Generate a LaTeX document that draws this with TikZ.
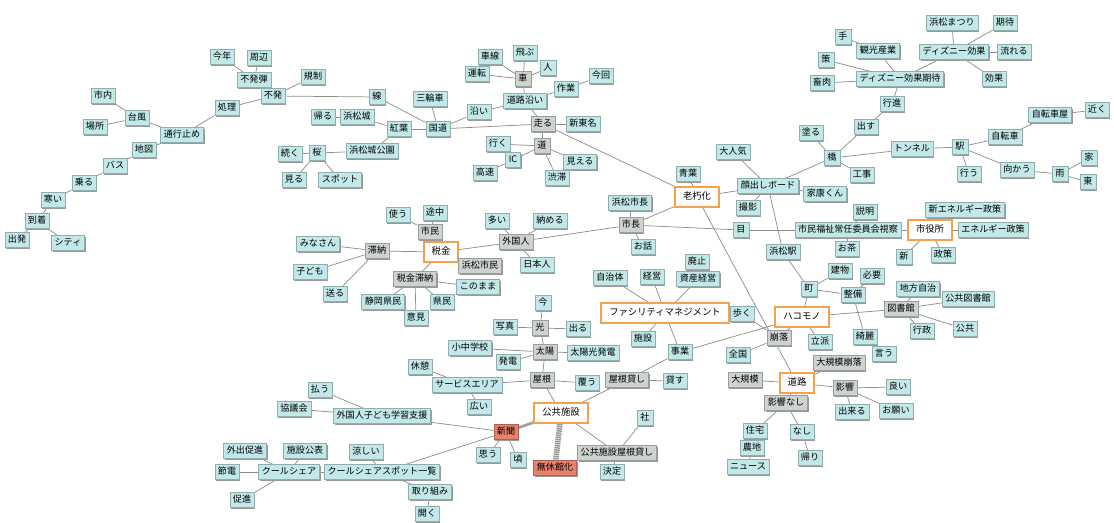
\documentclass[tikz,border=0pt]{standalone}
\usepackage{fontspec}
\setmainfont{Noto Sans CJK JP}
\usetikzlibrary{shadows}
\definecolor{leafc}{HTML}{C2E8EA}
\definecolor{greyc}{HTML}{CDD3CF}
\definecolor{orangec}{HTML}{F5A04A}
\definecolor{redc}{HTML}{E8826C}
\definecolor{edgec}{HTML}{8E8E8E}
\pgfdeclarelayer{bg}
\pgfsetlayers{bg,main}
\tikzset{
  bx/.style={font=\fontsize{6.8pt}{8pt}\selectfont, inner xsep=2.4pt, inner ysep=0pt,
    minimum height=11pt, text height=5.6pt, text depth=1.2pt,
    drop shadow={shadow xshift=0.9pt, shadow yshift=-0.9pt, fill=black!40, opacity=1}},
  lf/.style={bx, fill=leafc, draw=leafc!75!black, line width=0.3pt},
  gr/.style={bx, fill=greyc, draw=greyc!75!black, line width=0.3pt},
  rd/.style={bx, fill=redc, draw=redc!75!black, line width=0.3pt},
  hub/.style={font=\fontsize{7pt}{8pt}\selectfont, inner xsep=6pt, inner ysep=0pt,
    minimum height=15pt, text height=5.6pt, text depth=1.2pt,
    fill=white, draw=orangec, line width=1.3pt},
  ed/.style={draw=edgec, line width=0.55pt},
  thk/.style={draw=gray!80, line width=4.2pt, dash pattern=on 1.1pt off 0.5pt},
  thm/.style={draw=gray!75, line width=2pt},
}
\begin{document}
\begin{tikzpicture}[x=0.75pt,y=-0.75pt]
\useasboundingbox (0,0) rectangle (1114,523);
% left cluster
\node[lf] (kotoshi) at (222,57) {今年};
\node[lf] (shuhen) at (259,58) {周辺};
\node[lf] (fuhatsudan) at (254,80) {不発弾};
\node[lf] (fuhatsu) at (273,96) {不発};
\node[lf] (kisei) at (313,77) {規制};
\node[lf] (shori) at (227,108) {処理};
\node[lf] (shinai) at (103,96) {市内};
\node[lf] (taifu) at (137,118) {台風};
\node[lf] (basho) at (95,127) {場所};
\node[lf] (tsuko) at (182,135) {通行止め};
\node[lf] (chizu) at (144,150) {地図};
\node[lf] (basu) at (115,166) {バス};
\node[lf] (noru) at (84,183) {乗る};
\node[lf] (samui) at (53,200) {寒い};
\node[lf] (tochaku) at (37,221) {到着};
\node[lf] (shuppatsu) at (17,240) {出発};
\node[lf] (city) at (68,243) {シティ};
\node[lf] (sen) at (377,97) {線};
\node[lf] (sanrin) at (430,99) {三輪車};
\node[lf] (kaeru) at (323,117) {帰る};
\node[lf] (hjo) at (357,117) {浜松城};
\node[lf] (koyo) at (399,129) {紅葉};
\node[lf] (kokudo) at (438,129) {国道};
\node[lf] (sakura) at (317,153) {桜};
\node[lf] (hjokoen) at (372,151) {浜松城公園};
\node[lf] (tsuzuku) at (290,154) {続く};
\node[lf] (miru) at (294,180) {見る};
\node[lf] (spot) at (340,180) {スポット};
\node[lf] (zoi) at (479,112) {沿い};
\node[lf] (dorozoi) at (525,101) {道路沿い};
\node[gr] (kuruma) at (523,79) {車};
\node[lf] (shasen) at (490,57) {車線};
\node[lf] (tobu) at (525,53) {飛ぶ};
\node[lf] (unten) at (477,74) {運転};
\node[lf] (hito) at (548,68) {人};
\node[lf] (sagyo) at (566,89) {作業};
\node[lf] (konkai) at (601,76) {今回};
\node[gr] (hashiru) at (543,124) {走る};
\node[lf] (shintomei) at (583,124) {新東名};
\node[gr] (michi) at (542,146) {道};
\node[lf] (iku) at (498,144) {行く};
\node[lf] (ic) at (513,160) {IC};
\node[lf] (kosoku) at (485,173) {高速};
\node[lf] (mieru) at (580,162) {見える};
\node[lf] (jutai) at (557,178) {渋滞};
% top right
\node[lf] (te) at (843,37) {手};
\node[lf] (kanko) at (878,51) {観光産業};
\node[lf] (saku) at (826,60) {策};
\node[lf] (chikuniku) at (822,83) {畜肉};
\node[lf] (disneykitai) at (900,79) {ディズニー効果期待};
\node[lf] (matsuri) at (952,23) {浜松まつり};
\node[lf] (kitai) at (1005,23) {期待};
\node[lf] (disney) at (954,52) {ディズニー効果};
\node[lf] (nagareru) at (1014,52) {流れる};
\node[lf] (koka) at (994,79) {効果};
\node[lf] (koshin) at (892,104) {行進};
\node[lf] (dasu) at (866,127) {出す};
\node[lf] (nuru) at (811,133) {塗る};
\node[lf] (hashi) at (832,158) {橋};
\node[lf] (koji) at (862,175) {工事};
\node[lf] (tunnel) at (912,149) {トンネル};
\node[lf] (eki) at (960,147) {駅};
\node[lf] (jtsya) at (1050,115) {自転車屋};
\node[lf] (chikaku) at (1097,110) {近く};
\node[lf] (jitensha) at (1005,137) {自転車};
\node[lf] (okonau) at (969,174) {行う};
\node[lf] (mukau) at (1017,170) {向かう};
\node[lf] (ame) at (1060,174) {雨};
\node[lf] (ie) at (1089,158) {家};
\node[lf] (higashi) at (1088,182) {東};
% middle
\node[lf] (aoba) at (688,174) {青葉};
\node[hub] (rokyuka) at (697,197) {老朽化};
\node[lf] (kaodashi) at (768,186) {顔出しボード};
\node[lf] (daininki) at (733,152) {大人気};
\node[lf] (ieyasu) at (825,194) {家康くん};
\node[lf] (satsuei) at (748,208) {撮影};
\node[lf] (hshicho) at (630,203) {浜松市長};
\node[gr] (shicho) at (631,225) {市長};
\node[lf] (ohanashi) at (643,247) {お話};
\node[lf] (me) at (741,230) {目};
\node[lf] (shiminfukushi) at (848,230) {市民福祉常任委員会視察};
\node[lf] (setsumei) at (865,212) {説明};
\node[hub] (shiyakusho) at (930,230) {市役所};
\node[lf] (shinene) at (965,210) {新エネルギー政策};
\node[lf] (energy) at (993,230) {エネルギー政策};
\node[lf] (shin) at (904,257) {新};
\node[lf] (seisaku) at (943,255) {政策};
\node[lf] (ocha) at (847,249) {お茶};
\node[lf] (hmeki) at (783,252) {浜松駅};
\node[lf] (tatemono) at (840,271) {建物};
\node[lf] (hitsuyo) at (872,276) {必要};
\node[lf] (machi) at (809,289) {町};
\node[lf] (seibi) at (853,295) {整備};
\node[lf] (chiho) at (918,289) {地方自治};
\node[lf] (kokyotosho) at (968,299) {公共図書館};
\node[gr] (toshokan) at (901,309) {図書館};
\node[hub] (hakomono) at (802,317) {ハコモノ};
\node[lf] (aruku) at (742,314) {歩く};
\node[lf] (gyosei) at (922,331) {行政};
\node[lf] (kokyo) at (965,329) {公共};
\node[gr] (horaku) at (779,338) {崩落};
\node[lf] (rippa) at (820,342) {立派};
\node[lf] (kirei) at (865,337) {綺麗};
\node[lf] (iu) at (884,354) {言う};
\node[lf] (zenkoku) at (738,355) {全国};
\node[gr] (daikibohoraku) at (839,363) {大規模崩落};
\node[gr] (daikibo) at (745,380) {大規模};
\node[hub] (doro) at (797,383) {道路};
\node[gr] (eikyo) at (845,388) {影響};
\node[lf] (yoi) at (898,387) {良い};
\node[gr] (eikyonashi) at (786,403) {影響なし};
\node[lf] (dekiru) at (852,412) {出来る};
\node[lf] (onegai) at (896,411) {お願い};
\node[lf] (jutaku) at (755,431) {住宅};
\node[lf] (nashi) at (802,432) {なし};
\node[lf] (nochi) at (752,448) {農地};
\node[lf] (kaeri) at (810,458) {帰り};
\node[lf] (news) at (748,467) {ニュース};
% facility
\node[lf] (haishi) at (697,262) {廃止};
\node[lf] (jichitai) at (610,278) {自治体};
\node[lf] (keiei) at (652,277) {経営};
\node[lf] (shisan) at (698,279) {資産経営};
\node[hub] (fm) at (665,313) {ファシリティマネジメント};
\node[lf] (shisetsu) at (643,339) {施設};
\node[lf] (jigyo) at (680,352) {事業};
\node[gr] (yanegashi) at (627,380) {屋根貸し};
\node[lf] (kasu) at (675,381) {貸す};
\node[lf] (ima) at (543,303) {今};
\node[gr] (hikari) at (540,328) {光};
\node[lf] (shashin) at (505,327) {写真};
\node[lf] (deru) at (578,329) {出る};
\node[lf] (shochu) at (470,348) {小中学校};
\node[gr] (taiyo) at (545,352) {太陽};
\node[lf] (taiyoko) at (593,353) {太陽光発電};
\node[lf] (hatsuden) at (508,362) {発電};
\node[lf] (kyukei) at (420,367) {休憩};
\node[gr] (yane) at (542,380) {屋根};
\node[lf] (oou) at (587,383) {覆う};
\node[lf] (sa) at (467,385) {サービスエリア};
\node[lf] (hiroi) at (479,407) {広い};
\node[hub] (kokyoshisetsu) at (561,413) {公共施設};
\node[lf] (sha) at (645,418) {社};
\node[lf] (gaikokukodomo) at (382,416) {外国人子ども学習支援};
\node[rd] (shinbun) at (506,432) {新聞};
\node[lf] (omou) at (488,455) {思う};
\node[lf] (koro) at (518,460) {頃};
\node[rd] (mukyukan) at (555,468) {無休館化};
\node[gr] (kkyane) at (617,453) {公共施設屋根貸し};
\node[lf] (kettei) at (612,472) {決定};
\node[lf] (harau) at (320,390) {払う};
\node[lf] (kyogikai) at (294,409) {協議会};
\node[lf] (gaishutsu) at (245,451) {外出促進};
\node[lf] (shisetsukohyo) at (305,451) {施設公表};
\node[lf] (suzushii) at (366,452) {涼しい};
\node[lf] (setsuden) at (227,472) {節電};
\node[lf] (coolshare) at (289,472) {クールシェア};
\node[lf] (coolspot) at (382,472) {クールシェアスポット一覧};
\node[lf] (sokushin) at (242,500) {促進};
\node[lf] (torikumi) at (430,492) {取り組み};
\node[lf] (hiraku) at (427,514) {開く};
% tax
\node[lf] (tsukau) at (398,215) {使う};
\node[lf] (tochu) at (435,213) {途中};
\node[gr] (shimin) at (430,232) {市民};
\node[hub] (zeikin) at (441,252) {税金};
\node[lf] (minasan) at (318,244) {みなさん};
\node[gr] (tainou) at (377,251) {滞納};
\node[lf] (kodomo) at (310,272) {子ども};
\node[lf] (okuru) at (335,294) {送る};
\node[gr] (hshimin) at (480,266) {浜松市民};
\node[gr] (gaikokujin) at (516,242) {外国人};
\node[lf] (oi) at (497,221) {多い};
\node[lf] (osameru) at (550,221) {納める};
\node[lf] (nihonjin) at (537,265) {日本人};
\node[gr] (zeikintainou) at (415,279) {税金滞納};
\node[lf] (konomama) at (478,287) {このまま};
\node[lf] (shizuoka) at (383,302) {静岡県民};
\node[lf] (kenmin) at (442,302) {県民};
\node[lf] (iken) at (416,318) {意見};

\begin{pgfonlayer}{bg}
\foreach \a/\b in {kotoshi/fuhatsudan, shuhen/fuhatsudan, fuhatsudan/fuhatsu, fuhatsu/kisei, fuhatsu/shori, fuhatsu/sen, shori/tsuko, shinai/taifu, basho/taifu, taifu/tsuko, tsuko/chizu, chizu/basu, basu/noru, noru/samui, samui/tochaku, tochaku/shuppatsu, tochaku/city,
sen/kokudo, sanrin/kokudo, kaeru/hjo, hjo/koyo, koyo/kokudo, koyo/hjokoen, sakura/hjokoen, tsuzuku/sakura, miru/sakura, spot/sakura, kokudo/zoi, kokudo/hashiru, zoi/dorozoi, dorozoi/kuruma, dorozoi/sagyo, dorozoi/hashiru, kuruma/shasen, kuruma/tobu, kuruma/unten, kuruma/hito, sagyo/konkai, hashiru/shintomei, hashiru/michi, hashiru/rokyuka, michi/iku, michi/ic, michi/mieru, michi/jutai, ic/kosoku,
te/kanko, kanko/disneykitai, saku/disneykitai, chikuniku/disneykitai, disneykitai/disney, disney/matsuri, disney/kitai, disney/nagareru, disney/koka, disneykitai/koshin, koshin/dasu, dasu/hashi, nuru/hashi, hashi/koji, hashi/tunnel, hashi/kaodashi, tunnel/eki, eki/jitensha, eki/okonau, eki/mukau, jitensha/jtsya, jtsya/chikaku, mukau/ame, ame/ie, ame/higashi,
rokyuka/aoba, rokyuka/kaodashi, kaodashi/daininki, kaodashi/ieyasu, kaodashi/satsuei, kaodashi/hmeki, hmeki/machi, rokyuka/shicho, rokyuka/doro, shicho/hshicho, shicho/ohanashi, shicho/me, shicho/gaikokujin, me/shiminfukushi, shiminfukushi/shiyakusho, shiminfukushi/ocha, shiminfukushi/setsumei, shiyakusho/shinene, shiyakusho/energy, shiyakusho/shin, shiyakusho/seisaku,
hakomono/machi, machi/tatemono, machi/seibi, seibi/hitsuyo, seibi/kirei, kirei/iu, hakomono/toshokan, toshokan/chiho, toshokan/kokyotosho, toshokan/gyosei, toshokan/kokyo, hakomono/horaku, hakomono/rippa, aruku/horaku, horaku/zenkoku, jigyo/hakomono,
doro/daikibo, doro/daikibohoraku, doro/eikyo, doro/eikyonashi, eikyo/yoi, eikyo/dekiru, eikyo/onegai, eikyonashi/jutaku, eikyonashi/nashi, jutaku/nochi, nochi/news, nashi/kaeri,
fm/jichitai, fm/keiei, fm/shisan, shisan/haishi, fm/shisetsu, fm/jigyo, jigyo/yanegashi, yanegashi/kasu, yanegashi/kokyoshisetsu, kokyoshisetsu/yane, yane/taiyo, yane/oou, yane/sa, taiyo/hikari, taiyo/shochu, taiyo/hatsuden, taiyo/taiyoko, hikari/ima, hikari/shashin, hikari/deru, sa/kyukei, sa/hiroi, kokyoshisetsu/kkyane, kkyane/sha, kkyane/kettei, shinbun/gaikokukodomo, shinbun/omou, shinbun/koro, shinbun/coolspot, gaikokukodomo/harau, gaikokukodomo/kyogikai, coolspot/coolshare, coolspot/suzushii, coolspot/torikumi, torikumi/hiraku, coolshare/gaishutsu, coolshare/shisetsukohyo, coolshare/setsuden, coolshare/sokushin,
zeikin/shimin, shimin/tsukau, shimin/tochu, zeikin/tainou, zeikin/zeikintainou, zeikin/hshimin, zeikin/gaikokujin, tainou/minasan, tainou/kodomo, tainou/okuru, zeikintainou/konomama, zeikintainou/shizuoka, zeikintainou/kenmin, zeikintainou/iken, gaikokujin/oi, gaikokujin/osameru, gaikokujin/nihonjin}
  \draw[ed] (\a) -- (\b);
\draw[thk] (kokyoshisetsu) -- (mukyukan);
\draw[thm] (kokyoshisetsu) -- (shinbun);
\end{pgfonlayer}
\end{tikzpicture}
\end{document}
